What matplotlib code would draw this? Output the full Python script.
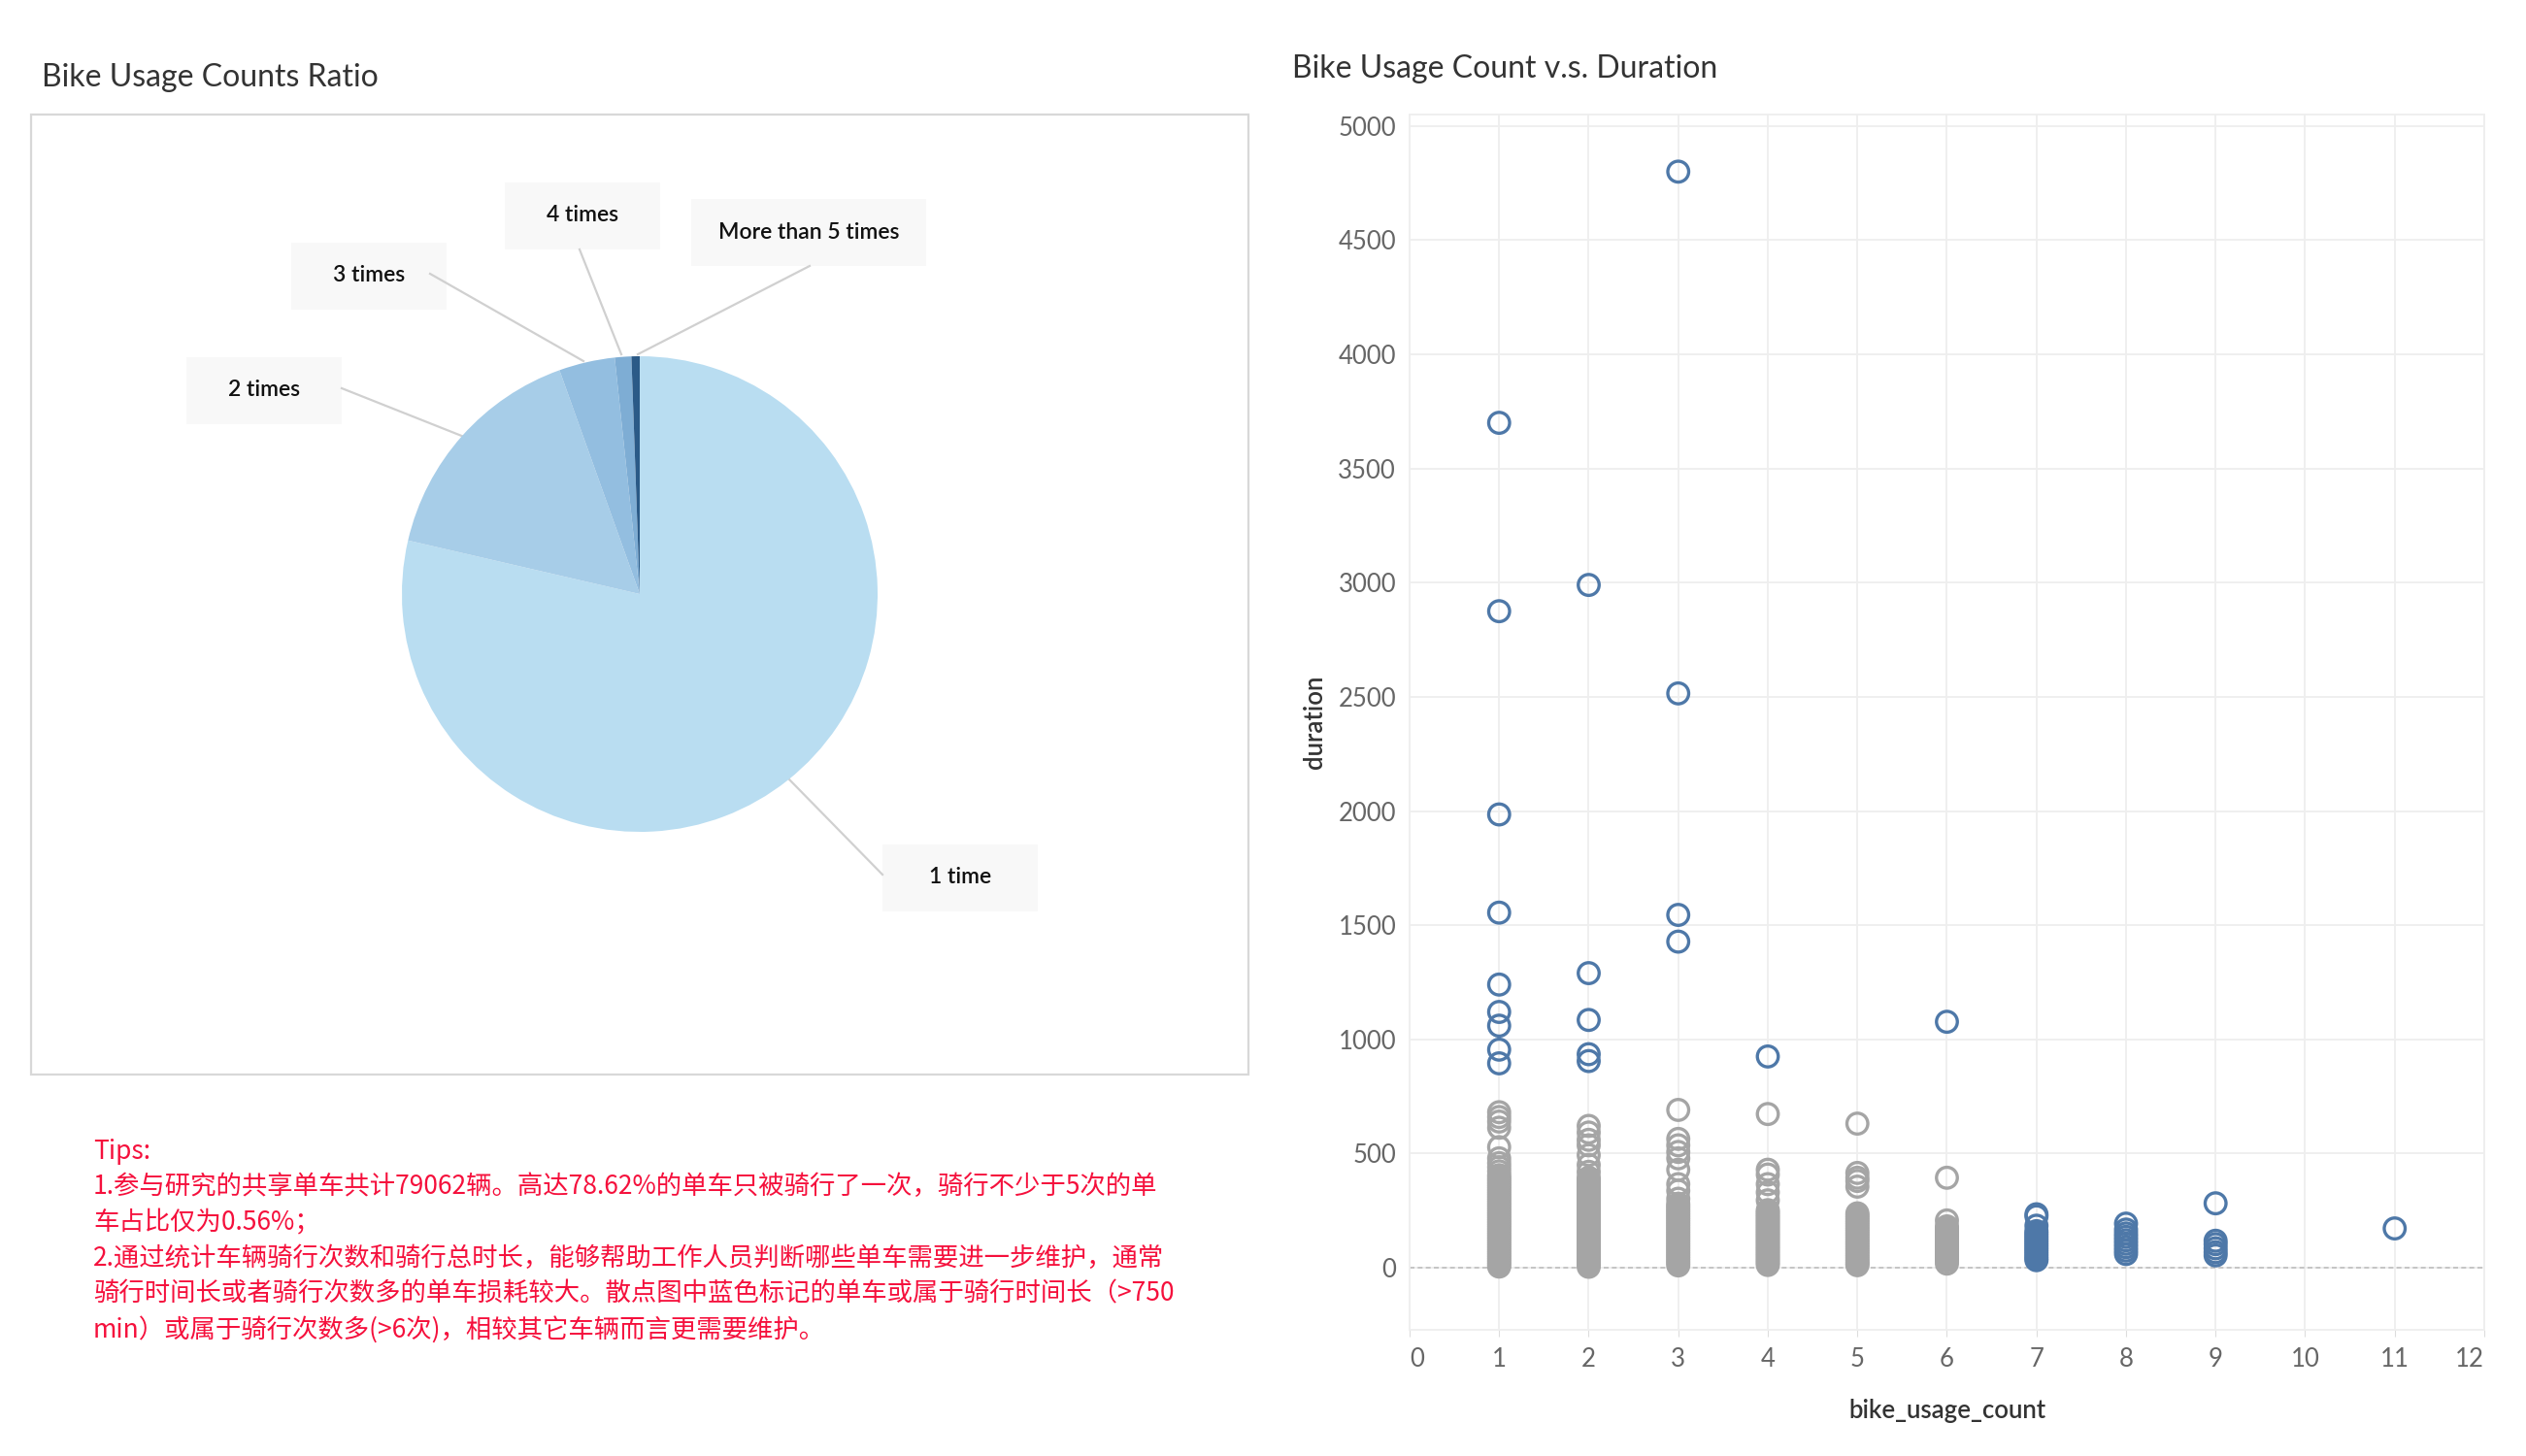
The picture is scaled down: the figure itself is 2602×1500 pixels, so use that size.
import matplotlib
matplotlib.use('Agg')
import matplotlib.pyplot as plt
from matplotlib.patches import Rectangle

plt.rcParams['font.family'] = ['Lato', 'Noto Sans CJK SC', 'DejaVu Sans']

# ---- pie data (share of bikes, %)
pie_labels = ['1 time', '2 times', '3 times', '4 times', 'More than 5 times']
pie_share = [78.62, 15.90, 3.80, 1.12, 0.56]
pie_colors = ['#b9ddf1', '#a7cde8', '#93bee0', '#7eadd4', '#2b5a87']

# ---- scatter data: bike_usage_count -> duration values
blue_1 = [3700, 2875, 1985, 1555, 1240, 1120, 1060, 955, 895]
blue_2 = [2990, 1290, 1085, 935, 905]
blue_3 = [4800, 2515, 1545, 1428]
blue_4 = [925]
blue_6 = [1077]
blue_7 = [234, 225, 184, 160, 150, 140, 130, 120, 110, 100, 90, 80, 70, 60, 50, 40, 33]
blue_8 = [193, 167, 150, 135, 120, 105, 90, 75, 60]
blue_9 = [282, 118, 103, 85, 68, 54]
blue_11 = [172]

gray_1 = [681, 660, 640, 613, 528, 479, 458, 440, 422, 405,
          395, 385, 375, 365, 355, 345, 335, 325, 315, 305, 295, 285, 275, 265,
          255, 245, 235, 225, 215, 205, 195, 185, 175, 165, 155, 145, 135, 125,
          115, 105, 95, 85, 75, 65, 55, 45, 35, 25, 15, 5]
gray_2 = [621, 592, 560, 536, 493, 450, 420,
          394, 384, 374, 364, 354, 344, 334, 324, 314, 304, 294, 284, 274, 264,
          254, 244, 234, 224, 214, 204, 194, 184, 174, 164, 154, 144, 134, 124,
          114, 104, 94, 84, 74, 64, 54, 44, 34, 24, 14, 4]
gray_3 = [691, 564, 536, 507, 479, 429, 366, 337, 302,
          280, 270, 260, 250, 240, 230, 220, 210, 200, 190, 180, 170, 160, 150,
          140, 130, 120, 110, 100, 90, 80, 70, 60, 50, 40, 30, 20, 10]
gray_4 = [673, 429, 408, 366, 330, 295,
          252, 242, 232, 222, 212, 202, 192, 182, 172, 162, 152, 142, 132, 122,
          112, 102, 92, 82, 72, 62, 52, 42, 32, 22, 12]
gray_5 = [631, 415, 394, 380, 355,
          238, 228, 218, 208, 198, 188, 178, 168, 158, 148, 138, 128, 118, 108,
          98, 88, 78, 68, 58, 48, 38, 28, 18, 11]
gray_6 = [394, 207,
          181, 171, 161, 151, 141, 131, 121, 111, 101, 91, 81, 71, 61, 51, 41,
          31, 18]

blue_groups = [(1, blue_1), (2, blue_2), (3, blue_3), (4, blue_4), (6, blue_6),
               (7, blue_7), (8, blue_8), (9, blue_9), (11, blue_11)]
gray_groups = [(1, gray_1), (2, gray_2), (3, gray_3), (4, gray_4), (5, gray_5), (6, gray_6)]

tips_lines = [
    'Tips:',
    '1.参与研究的共享单车共计79062辆。高达78.62%的单车只被骑行了一次，骑行不少于5次的单',
    '车占比仅为0.56%；',
    '2.通过统计车辆骑行次数和骑行总时长，能够帮助工作人员判断哪些单车需要进一步维护，通常',
    '骑行时间长或者骑行次数多的单车损耗较大。散点图中蓝色标记的单车或属于骑行时间长（>750',
    'min）或属于骑行次数多(>6次)，相较其它车辆而言更需要维护。',
]

W, H = 2602, 1500
fig = plt.figure(figsize=(W / 100, H / 100), dpi=100)


def rect(x0, y0, x1, y1):
    # pixel box (top-left origin) -> figure fraction
    return [x0 / W, 1 - y1 / H, (x1 - x0) / W, (y1 - y0) / H]


# overlay in pixel coords for frame, label boxes, leader lines, texts
ov = fig.add_axes([0, 0, 1, 1])
ov.set_xlim(0, W)
ov.set_ylim(H, 0)
ov.axis('off')

ov.add_patch(Rectangle((32, 118), 1254, 989, fill=False, ec='#d8d8d8', lw=1.6))
ov.text(43, 80, 'Bike Usage Counts Ratio', fontsize=23, color='#333333', va='center')
ov.text(1331, 71, 'Bike Usage Count v.s. Duration', fontsize=23, color='#333333', va='center')

# label boxes: center x, center y, width
box_pos = [(989, 904, 160), (272, 402, 160), (380, 284, 160), (600, 222, 160), (833, 239, 242)]
leaders = [((909, 901), (813, 803)), ((352, 400), (478, 450)), ((443, 282), (601, 372)),
           ((597, 257), (640, 365)), ((834, 274), (657, 365))]
for lab, (cx, cy, bw), (p0, p1) in zip(pie_labels, box_pos, leaders):
    ov.plot([p0[0], p1[0]], [p0[1], p1[1]], color='#d0d0d0', lw=1.6)
    ov.add_patch(Rectangle((cx - bw / 2, cy - 34), bw, 69, fc='#f8f8f8', ec='none'))
    ov.text(cx, cy, lab, fontsize=16.5, color='#111111', ha='center', va='center',
            fontweight='semibold')

for i, line in enumerate(tips_lines):
    ov.text(96, 1186 + i * 36.8, line, fontsize=19, color='#f5103c', va='center',
            family=['Noto Sans CJK SC', 'DejaVu Sans'])

# pie
pa = fig.add_axes(rect(659 - 245, 612 - 245, 659 + 245, 612 + 245))
pa.pie(pie_share, colors=pie_colors, startangle=90, counterclock=False,
       wedgeprops=dict(linewidth=0))
pa.set_xlim(-1, 1)
pa.set_ylim(-1, 1)
pa.set_aspect('equal')
pa.axis('off')

# scatter
ax = fig.add_axes(rect(1452, 118, 2559, 1370))
for x, ys in gray_groups:
    ax.scatter([x] * len(ys), ys, s=240, facecolors='none', edgecolors='#a5a5a5',
               linewidths=2.4, zorder=3)
for x, ys in blue_groups:
    ax.scatter([x] * len(ys), ys, s=240, facecolors='none', edgecolors='#4e78a8',
               linewidths=2.4, zorder=4)

ax.set_xlim(0, 12)
ax.set_ylim(-272, 5050)
ax.set_xticks(range(0, 13))
ax.set_yticks(range(0, 5001, 500))
ax.grid(True, color='#eeeeee', lw=1.3)
ax.set_axisbelow(True)
ax.axhline(0, color='#bdbdbd', lw=1.2, ls=(0, (3, 2)), zorder=2)
for sp in ax.spines.values():
    sp.set_color('#eeeeee')
    sp.set_linewidth(1.3)
ax.tick_params(axis='both', colors='#dddddd', labelcolor='#666666', labelsize=18.5)
ax.tick_params(axis='y', length=0, pad=10)
ax.tick_params(axis='x', length=5, pad=8)
xt = ax.get_xticklabels()
xt[0].set_horizontalalignment('left')
xt[-1].set_horizontalalignment('right')
ax.set_ylabel('duration', fontsize=18.5, color='#333333', labelpad=8,
              fontweight='semibold')
ax.set_xlabel('bike_usage_count', fontsize=18.5, color='#333333', labelpad=20,
              fontweight='semibold')

fig.savefig('out.png', dpi=100, facecolor='white')
